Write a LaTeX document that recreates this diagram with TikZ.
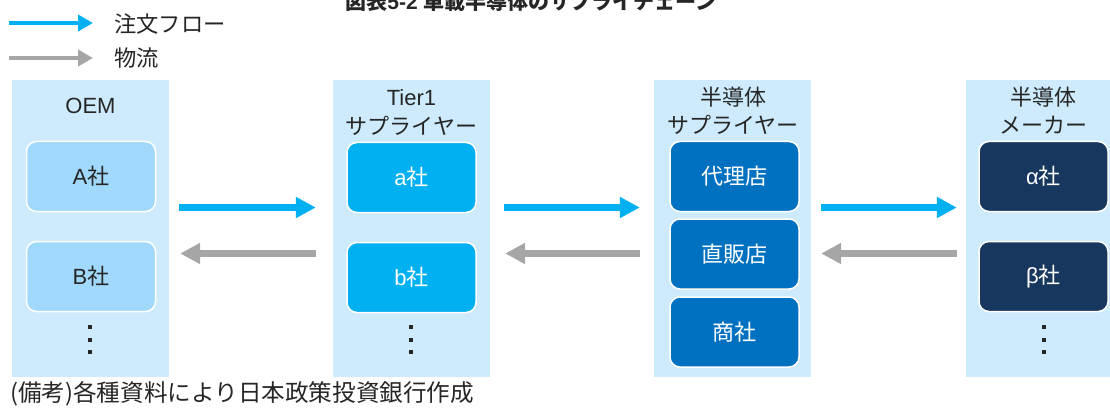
\documentclass[tikz,border=0pt]{standalone}
\usepackage{fontspec}
\setmainfont{Liberation Sans}
\newfontfamily\jp{Noto Sans CJK JP}
\usetikzlibrary{arrows.meta,calc}
\definecolor{colbg}{HTML}{CDEBFC}
\definecolor{oembox}{HTML}{A0D9FB}
\definecolor{tierbox}{HTML}{00B0F0}
\definecolor{supbox}{HTML}{0070C0}
\definecolor{makbox}{HTML}{17375E}
\definecolor{ordercol}{HTML}{00B0F0}
\definecolor{flowcol}{HTML}{A6A6A6}
\definecolor{txt}{HTML}{262626}
\begin{document}
\begin{tikzpicture}[x=1pt,y=-1pt,
  colbox/.style={fill=colbg,draw=none,minimum width=157pt,minimum height=297pt,inner sep=0pt},
  firm/.style={draw=white,line width=1.5pt,rounded corners=10pt,minimum width=129pt,minimum height=70pt,inner sep=0pt,font=\fontsize{22pt}{26pt}\selectfont},
  oemfirm/.style={firm,fill=oembox,text=txt},
  tierfirm/.style={firm,fill=tierbox,text=white},
  supfirm/.style={firm,fill=supbox,text=white},
  makfirm/.style={firm,fill=makbox,text=white},
  head/.style={anchor=base,inner sep=0pt,text=txt,font=\fontsize{22pt}{26pt}\selectfont},
  order/.style={draw=ordercol,line width=7pt,-{Triangle[length=20pt,width=20pt]}},
  flow/.style={draw=flowcol,line width=7pt,-{Triangle[length=20pt,width=20pt]}},
  legorder/.style={draw=ordercol,line width=4.5pt,-{Triangle[length=15pt,width=16pt]}},
  legflow/.style={draw=flowcol,line width=4.5pt,-{Triangle[length=15pt,width=16pt]}},
  legtext/.style={anchor=base west,inner sep=0pt,text=txt,font=\fontsize{22.3pt}{26pt}\selectfont\jp},
  dot/.style={fill=txt}
]
\clip (0,0) rectangle (1110,414);

% title (cut off at top)
\node[anchor=base,inner sep=0pt,text=txt,font=\fontsize{21pt}{24pt}\selectfont\bfseries] (title) at (531,9.5) {{\jp 図表}5-2 {\jp 車載半導体のサプライチェーン}};

% legend
\coordinate (lg1s) at (9,23);
\coordinate (lg1e) at (93,23);
\coordinate (lg2s) at (9,58);
\coordinate (lg2e) at (93,58);
\draw[legorder] (lg1s) -- (lg1e);
\draw[legflow] (lg2s) -- (lg2e);
\node[legtext] (lgt1) at (114,32.6) {注文フロー};
\node[legtext] (lgt2) at (114,66.6) {物流};

% columns
\node[colbox] (col1) at (90.5,228.5) {};
\node[colbox] (col2) at (411.5,228.5) {};
\node[colbox] (col3) at (732.5,228.5) {};
\node[colbox] (col4) at (1044.5,228.5) {};

% headers
\node[head] (h1) at (90.5,113.4) {OEM};
\node[head] (h2a) at (411.5,106) {Tier1};
\node[head] (h2b) at (411.5,134.4) {\jp サプライヤー};
\node[head] (h3a) at (733,105.4) {\jp 半導体};
\node[head] (h3b) at (733,133.8) {\jp サプライヤー};
\node[head] (h4a) at (1043,105.4) {\jp 半導体};
\node[head] (h4b) at (1043,133.8) {\jp メーカー};

% firms
\node[oemfirm] (A) at (91,176.5) {A{\jp 社}};
\node[oemfirm] (B) at (91,276.5) {B{\jp 社}};
\node[tierfirm] (a) at (411.5,177.5) {a{\jp 社}};
\node[tierfirm] (b) at (411.5,277.5) {b{\jp 社}};
\node[supfirm] (dai) at (734.5,176.5) {\jp 代理店};
\node[supfirm] (choku) at (734.5,254) {\jp 直販店};
\node[supfirm] (sho) at (734.5,332) {\jp 商社};
\node[makfirm] (al) at (1043.5,176.5) {α{\jp 社}};
\node[makfirm] (be) at (1043.5,276.5) {β{\jp 社}};

% vertical ellipses
\foreach \x in {90,411,1044}{
  \foreach \y in {327,339.5,352}{
    \fill[dot] (\x-2,\y-2) rectangle (\x+2,\y+2);
  }
}

% arrows
\coordinate (yo) at (0,207.5);
\coordinate (yf) at (0,253.5);
\draw[order] ($(col1.east |- yo)+(10,0)$) -- ($(col2.west |- yo)+(-17,0)$);
\draw[flow] ($(col2.west |- yf)+(-17,0)$) -- ($(col1.east |- yf)+(11,0)$);
\draw[order] ($(col2.east |- yo)+(14,0)$) -- ($(col3.west |- yo)+(-14,0)$);
\draw[flow] ($(col3.west |- yf)+(-14,0)$) -- ($(col2.east |- yf)+(15,0)$);
\draw[order] ($(col3.east |- yo)+(10,0)$) -- ($(col4.west |- yo)+(-9,0)$);
\draw[flow] ($(col4.west |- yf)+(-9,0)$) -- ($(col3.east |- yf)+(10,0)$);

% footnote
\node[anchor=base west,inner sep=0pt,text=txt,font=\fontsize{23.6pt}{26pt}\selectfont\jp] (note) at (10,401.8) {(備考)各種資料により日本政策投資銀行作成};
\end{tikzpicture}
\end{document}
